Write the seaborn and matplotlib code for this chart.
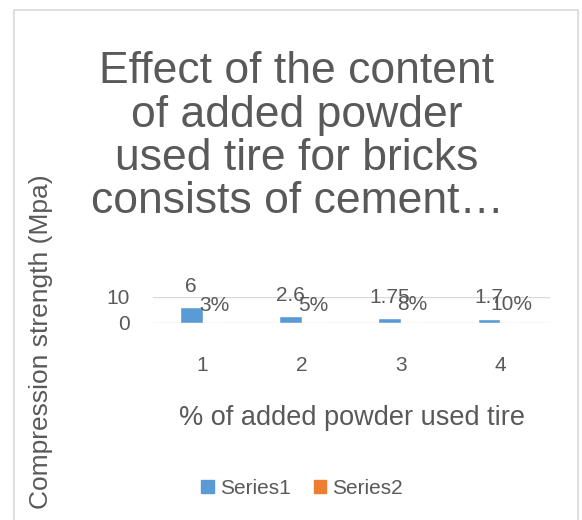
import pandas as pd
import numpy as np
import matplotlib
matplotlib.use("Agg")
import matplotlib.pyplot as plt
from matplotlib.patches import Rectangle
import seaborn as sns

# chart values
categories = ["1", "2", "3", "4"]
series1 = [6, 2.6, 1.75, 1.7]
series2 = [0.03, 0.05, 0.08, 0.10]
series_names = ["Series1", "Series2"]
title_lines = ["Effect of the content", "of added powder",
               "used tire for bricks", "consists of cement\u2026"]
x_label = "% of added powder used tire"
y_label = "Compression strength (Mpa)"

df = pd.DataFrame({
    "cat": categories * 2,
    "value": series1 + series2,
    "series": [series_names[0]] * 4 + [series_names[1]] * 4,
})

sns.set_theme(style="white")
plt.rcParams["font.family"] = ["Liberation Sans", "DejaVu Sans"]
grey = "#595959"

W, H = 582, 520
fig = plt.figure(figsize=(W / 100, H / 100), dpi=100)
ax = fig.add_axes([153 / W, 1 - 323 / H, 397 / W, 26 / H])

sns.barplot(data=df, x="cat", y="value", hue="series",
            palette=["#5B9BD5", "#ED7D31"], width=0.46,
            saturation=1, ax=ax, legend=False)

ax.set_ylim(0, 10)
ax.set_yticks([0, 10])
ax.yaxis.grid(True, color="#D9D9D9", linewidth=1)
ax.set_axisbelow(True)
for s in ax.spines.values():
    s.set_visible(False)
ax.tick_params(axis="both", length=0, labelsize=15, labelcolor=grey)
ax.tick_params(axis="x", pad=24)
ax.tick_params(axis="y", pad=17)
ax.set_xlabel("")
ax.set_ylabel("")

# data labels
ax.bar_label(ax.containers[0], labels=[f"{v:g}" for v in series1],
             padding=8, fontsize=15, color=grey)
ax.bar_label(ax.containers[1], labels=[f"{v:.0%}" for v in series2],
             padding=6, fontsize=15, color=grey)

# title, one line at a time
baselines = [83, 127, 170, 213]
for line, yb in zip(title_lines, baselines):
    fig.text(297 / W, 1 - yb / H, line, ha="center", va="baseline",
             fontsize=32, color=grey)

fig.text(352 / W, 1 - 425 / H, x_label, ha="center", va="baseline",
         fontsize=19.5, color=grey)
fig.text(41 / W, 1 - 342 / H, y_label, rotation=90, ha="center",
         va="center", fontsize=19, color=grey)

handles = [Rectangle((0, 0), 1, 1, color=c) for c in ["#5B9BD5", "#ED7D31"]]
leg = fig.legend(handles, series_names, loc="center",
                 bbox_to_anchor=(302 / W, 1 - 488 / H), ncol=2,
                 frameon=False, fontsize=15, handlelength=0.6,
                 handleheight=0.6, handletextpad=0.3, columnspacing=1.1)
for t in leg.get_texts():
    t.set_color(grey)

fig.patches.append(Rectangle((14 / W, -0.1), (578 - 14) / W, 1.1 - 10 / H,
                             transform=fig.transFigure, fill=False,
                             edgecolor="#D9D9D9", linewidth=1.2))

fig.savefig("out.png", dpi=100)
